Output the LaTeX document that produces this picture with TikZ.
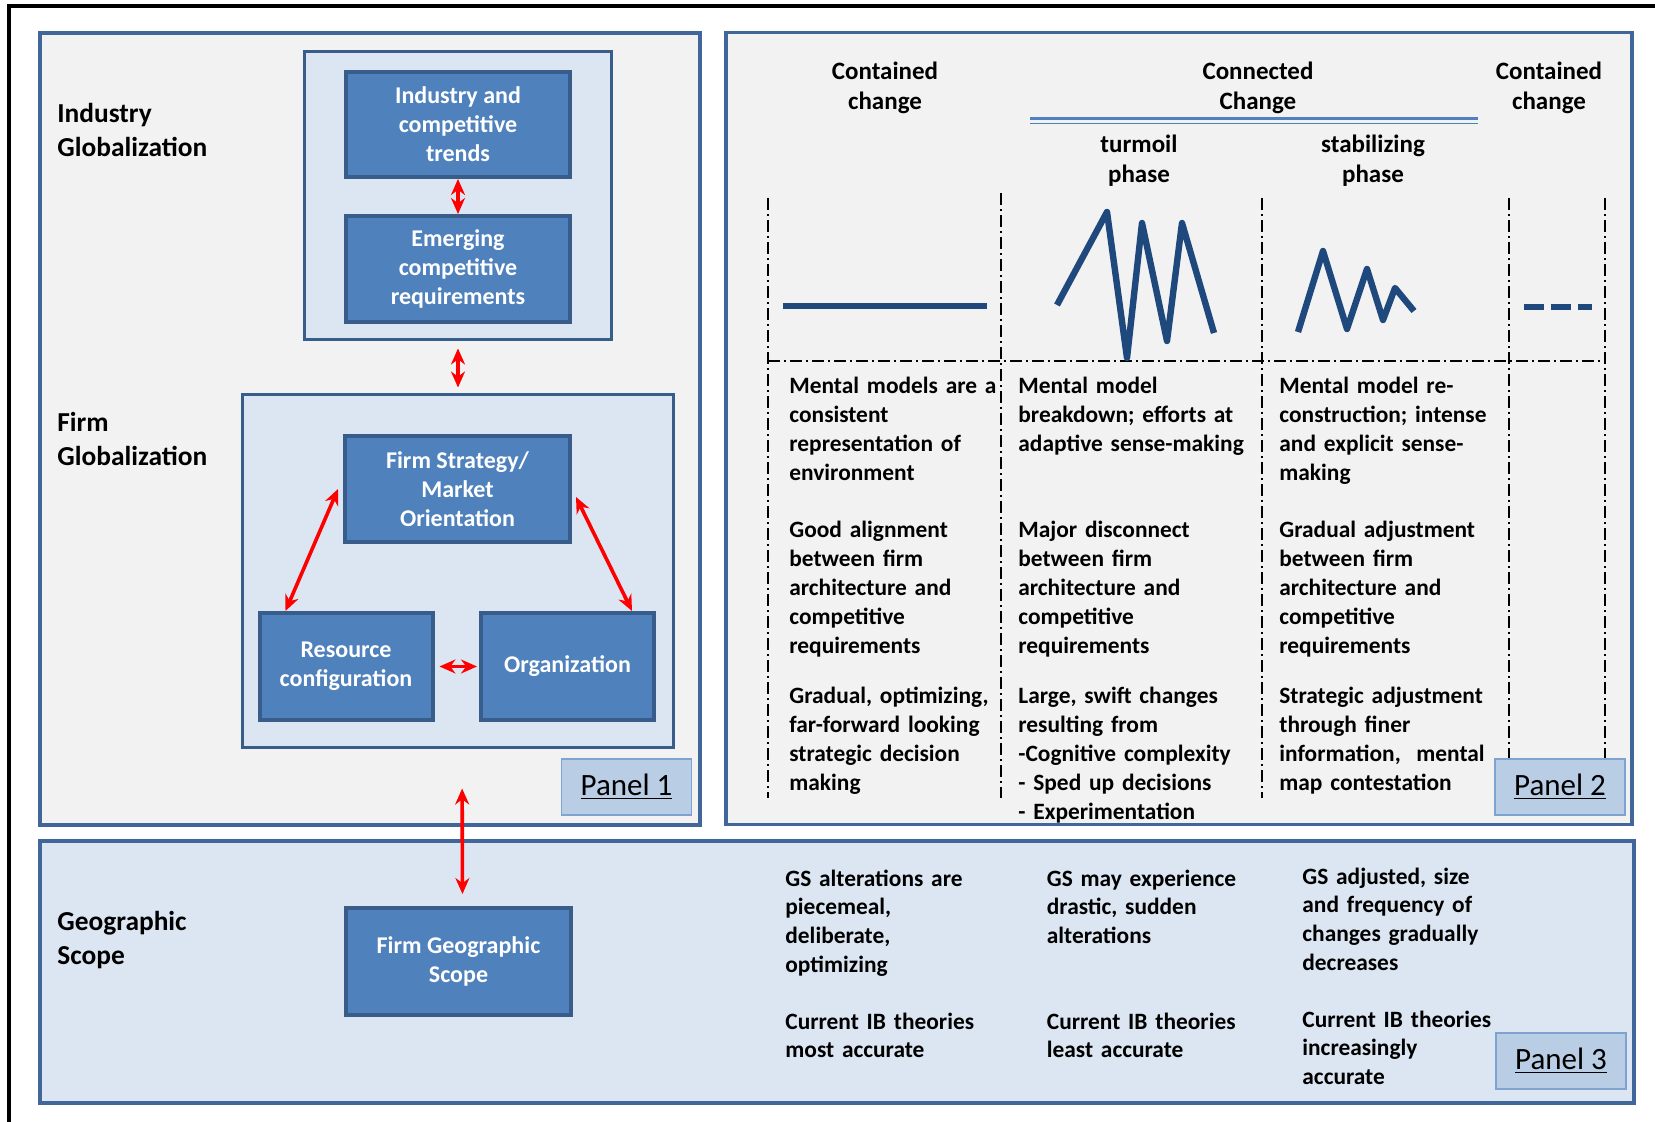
\documentclass[tikz,border=0pt]{standalone}
\usepackage{fontspec}
\setmainfont{Carlito}
\usetikzlibrary{arrows.meta}

\definecolor{boxblue}{HTML}{4F81BD}
\definecolor{boxedge}{HTML}{385D8A}
\definecolor{lightblue}{HTML}{DCE6F2}
\definecolor{panelgray}{HTML}{F2F2F2}
\definecolor{paneledge}{HTML}{41669A}
\definecolor{labelfill}{HTML}{B9CDE5}
\definecolor{labeledge}{HTML}{7EA3D0}
\definecolor{zigblue}{HTML}{1F497D}

\tikzset{
  panel/.style={draw=paneledge, line width=1.8pt, fill=panelgray},
  holder/.style={draw=boxedge, line width=1.5pt, fill=lightblue},
  bluebox/.style={draw=boxedge, line width=2pt, fill=boxblue, text=white, align=center,
    font=\fontsize{12}{14.5}\selectfont\bfseries},
  biarrow/.style={red, line width=1.8pt, {Stealth[length=8pt,width=7pt]}-{Stealth[length=8pt,width=7pt]}},
  sidelabel/.style={anchor=base west, inner sep=0pt, text width=100pt, align=left,
    font=\fontsize{13.7}{17}\selectfont\bfseries},
  headtxt/.style={anchor=base, inner sep=0pt, text width=80pt, align=center,
    font=\fontsize{12.5}{15}\selectfont\bfseries},
  bodytxt/.style={anchor=base west, inner sep=0pt, text width=125pt, align=left,
    font=\fontsize{11.7}{14.4}\selectfont\bfseries},
  paneltag/.style={draw=labeledge, line width=0.8pt, fill=labelfill, minimum width=65pt,
    minimum height=28pt, font=\fontsize{15.5}{18}\selectfont},
  phaseline/.style={line width=0.6pt, dash pattern=on 6pt off 2pt on 1pt off 2pt},
  zig/.style={zigblue, line width=3.2pt, line join=round}
}

\begin{document}
\begin{tikzpicture}[x=0.5pt,y=-0.5pt]
\useasboundingbox (0,0) rectangle (1655,1122);
\fill[white] (0,0) rectangle (1655,1122);
\draw[line width=2pt] (9,1122) -- (9,6) -- (1655,6);

% panels
\node[panel, minimum width=330pt, minimum height=396pt] (pone) at (370,429) {};
\node[panel, minimum width=453pt, minimum height=396pt] (ptwo) at (1179,428.5) {};
\node[panel, fill=lightblue, minimum width=797pt, minimum height=131pt] (pthree) at (837,972) {};

% panel 1
\node[holder, minimum width=153.8pt, minimum height=144pt] (indbox) at (458,196) {};
\node[holder, minimum width=215.8pt, minimum height=176pt] (firmbox) at (458,571) {};

\node[bluebox, minimum width=112pt, minimum height=52.5pt] (trends) at (458,124.5) {Industry and\\competitive\\trends};
\node[bluebox, minimum width=112pt, minimum height=53pt] (emerg) at (458,269) {Emerging\\competitive\\requirements};
\node[bluebox, minimum width=112.5pt, minimum height=53pt] (strat) at (457.5,489) {Firm Strategy/\\Market\\Orientation};
\node[bluebox, minimum width=86.5pt, minimum height=53.5pt] (res) at (346,666.5) {Resource\\configuration};
\node[bluebox, minimum width=86.5pt, minimum height=53.5pt] (org) at (567.5,666.5) {Organization};
\node[bluebox, minimum width=112.5pt, minimum height=53.5pt] (geo) at (458.5,961.5) {Firm Geographic\\Scope};

\draw[biarrow] (trends) -- (emerg);
\draw[biarrow, shorten <=3.5pt, shorten >=3pt] (indbox) -- (firmbox);
\draw[biarrow] ([xshift=-2.5pt]strat.west) -- ([xshift=14pt]res.north west);
\draw[biarrow] ([xshift=2pt,yshift=-4pt]strat.east) -- ([xshift=-12pt]org.north east);
\draw[biarrow, shorten <=2.5pt, shorten >=1pt] (res.east) -- (org.west);
\draw[biarrow, shorten <=20pt, shorten >=6pt] ([xshift=2pt]firmbox.south) -- ([xshift=2pt]geo.north);

\node[sidelabel] (indlab) at (57,123) {Industry\\Globalization};
\node[sidelabel] (firmlab) at (57,432) {Firm\\Globalization};
\node[sidelabel] (geolab) at (57,930) {Geographic\\Scope};

% panel 2
\node[headtxt] (cont1) at (885,80) {Contained\\change};
\node[headtxt] (conn) at (1258,80) {Connected\\Change};
\node[headtxt] (cont2) at (1549,80) {Contained\\change};
\node[headtxt] (turm) at (1139,153) {turmoil\\phase};
\node[headtxt] (stab) at (1373,153) {stabilizing\\phase};
\draw[boxblue, line width=1.5pt] (1030,119) -- (1478,119);
\draw[boxblue, line width=0.6pt] (1030,123.5) -- (1478,123.5);

\foreach \x/\y in {768/198, 1001/193, 1262/198, 1509/198, 1605/198}
  \draw[phaseline] (\x,\y) -- (\x,798);
\draw[phaseline] (768,361) -- (1605,361);

\draw[zig] (783,306) -- (987,306);
\draw[zig] (1057,305) -- (1107,212) -- (1127,358) -- (1142,223) -- (1167,341) -- (1182,223) -- (1214,333);
\draw[zig] (1298,332) -- (1323,251) -- (1347,329) -- (1367,269) -- (1383,320) -- (1395,288) -- (1414,311);
\draw[zig, line join=miter, dash pattern=on 10pt off 3.5pt] (1524,307) -- (1592,307);

\node[bodytxt] (mm1) at (789,394) {Mental models are a\\consistent\\representation of\\environment};
\node[bodytxt] (al1) at (789,538) {Good alignment\\between firm\\architecture and\\competitive\\requirements};
\node[bodytxt] (dc1) at (789,704) {Gradual, optimizing,\\far-forward looking\\strategic decision\\making};
\node[bodytxt] (mm2) at (1018,394) {Mental model\\breakdown; efforts at\\adaptive sense-making};
\node[bodytxt] (al2) at (1018,538) {Major disconnect\\between firm\\architecture and\\competitive\\requirements};
\node[bodytxt] (dc2) at (1018,704) {Large, swift changes\\resulting from\\-Cognitive complexity\\- Sped up decisions\\- Experimentation};
\node[bodytxt] (mm3) at (1279,394) {Mental model re-\\construction; intense\\and explicit sense-\\making};
\node[bodytxt] (al3) at (1279,538) {Gradual adjustment\\between firm\\architecture and\\competitive\\requirements};
\node[bodytxt] (dc3) at (1279,704) {Strategic adjustment\\through finer\\information,~ mental\\map contestation};

% panel 3
\node[bodytxt] (gs1) at (785,886) {GS alterations are\\piecemeal,\\deliberate,\\optimizing};
\node[bodytxt] (gs2) at (1046.5,886) {GS may experience\\drastic, sudden\\alterations};
\node[bodytxt] (gs3) at (1302,884) {GS adjusted, size\\and frequency of\\changes gradually\\decreases};
\node[bodytxt] (ib1) at (785,1029) {Current IB theories\\most accurate};
\node[bodytxt] (ib2) at (1046.5,1029) {Current IB theories\\least accurate};
\node[bodytxt] (ib3) at (1302,1027) {Current IB theories\\increasingly\\accurate};

\node[paneltag] (tag1) at (626.5,787) {\underline{Panel 1}};
\node[paneltag] (tag2) at (1560,787) {\underline{Panel 2}};
\node[paneltag] (tag3) at (1561,1061) {\underline{Panel 3}};
\end{tikzpicture}
\end{document}
